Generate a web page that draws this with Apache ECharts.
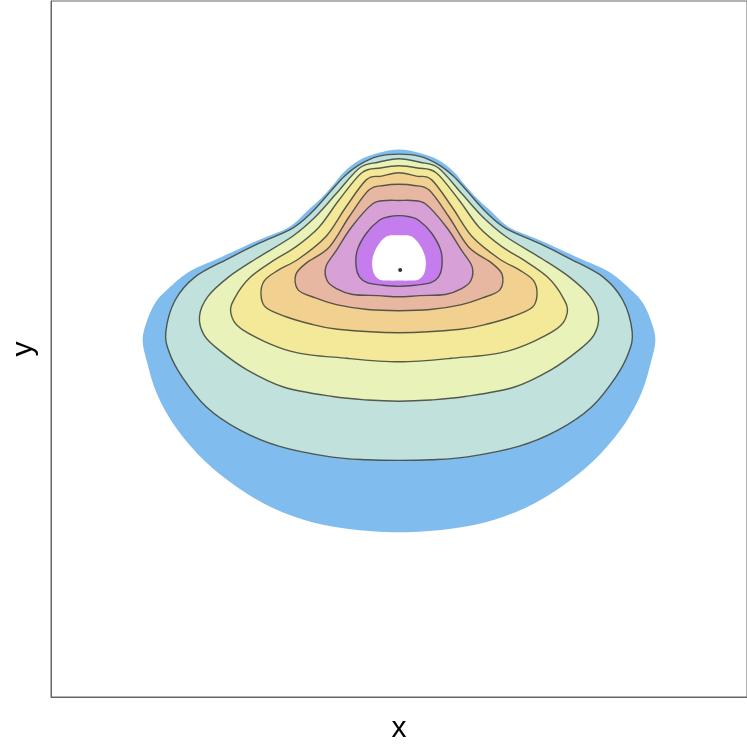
<!DOCTYPE html>
<html>
<head>
<meta charset="utf-8">
<title>contour</title>
<script src="https://cdn.jsdelivr.net/npm/echarts@6/dist/echarts.min.js"></script>
<style>
  html, body { margin: 0; padding: 0; background: #fff; }
  #chart { width: 747px; height: 745px; }
</style>
</head>
<body>
<div id="chart"></div>
<script>
// right half of each contour, from the top of the axis x=0 round to the bottom (mirrored for the left half)
const outerEdge = [[0,1.72],[0.18,1.69],[0.34,1.63],[0.47,1.53],[0.58,1.40],[0.68,1.29],[0.78,1.20],[0.95,1.05],[1.21,0.94],[1.56,0.78],[1.82,0.66],[2.01,0.50],[2.10,0.40],[2.17,0.25],[2.21,0.08],[2.17,-0.12],[2.09,-0.38],[1.95,-0.64],[1.74,-0.90],[1.48,-1.13],[1.17,-1.33],[0.83,-1.47],[0.45,-1.55],[0,-1.58]];
const level1 = [[0,1.68],[0.18,1.66],[0.34,1.59],[0.47,1.49],[0.58,1.37],[0.75,1.18],[0.92,1.04],[1.21,0.91],[1.47,0.78],[1.76,0.62],[1.93,0.42],[2.01,0.15],[1.98,-0.03],[1.87,-0.24],[1.66,-0.50],[1.37,-0.70],[1.03,-0.84],[0.59,-0.93],[0.27,-0.955],[0,-0.96]];
const level2 = [[0,1.64],[0.18,1.61],[0.34,1.56],[0.54,1.34],[0.72,1.14],[0.92,0.97],[1.23,0.78],[1.47,0.62],[1.65,0.45],[1.72,0.28],[1.68,0.12],[1.55,-0.01],[1.31,-0.18],[0.99,-0.33],[0.57,-0.41],[0.27,-0.44],[0,-0.45]];
const level3 = [[0,1.58],[0.16,1.56],[0.32,1.52],[0.52,1.28],[0.69,1.05],[0.89,0.88],[1.07,0.77],[1.28,0.62],[1.41,0.45],[1.45,0.31],[1.34,0.16],[0.93,-0.02],[0.45,-0.08],[0,-0.11]];
const level4 = [[0,1.52],[0.15,1.49],[0.28,1.46],[0.46,1.22],[0.63,0.97],[0.86,0.78],[1.04,0.68],[1.16,0.59],[1.19,0.47],[1.15,0.36],[0.98,0.28],[0.78,0.22],[0.53,0.17],[0,0.14]];
const level5 = [[0,1.42],[0.13,1.41],[0.26,1.37],[0.43,1.14],[0.60,0.88],[0.80,0.74],[0.89,0.64],[0.87,0.51],[0.72,0.44],[0.53,0.38],[0.27,0.34],[0,0.33]];
const level6 = [[0,1.28],[0.11,1.28],[0.23,1.25],[0.41,1.05],[0.54,0.85],[0.63,0.71],[0.62,0.59],[0.54,0.52],[0.40,0.47],[0.18,0.46],[0,0.45]];
const level7 = [[0,1.15],[0.09,1.14],[0.17,1.11],[0.28,1.00],[0.36,0.85],[0.37,0.71],[0.34,0.62],[0.27,0.57],[0.14,0.55],[0,0.54]];
const whiteCore = [[0,0.98],[0.11,0.97],[0.19,0.88],[0.23,0.77],[0.22,0.66],[0.17,0.60],[0.09,0.59],[0,0.59]];
const peakPoint = [[0.01, 0.68]];

const halves = [outerEdge, level1, level2, level3, level4, level5, level6, level7, whiteCore];
const fills = ['#80bdee', '#c0e1dc', '#e9f2b8', '#f4e899', '#f2d08f', '#e8b7a1', '#d7a0d7', '#c57ced', '#ffffff'];
const outlined = [false, true, true, true, true, true, true, true, false];

function mirror(half) {
  const left = half.slice(1, -1).reverse().map(p => [-p[0], p[1]]);
  return half.concat(left);
}
const contours = halves.map(mirror);

// closed catmull-rom curve through the pixel points, as bezier path
function closedPath(pts) {
  const n = pts.length;
  const f = v => v.toFixed(2);
  let d = 'M' + f(pts[0][0]) + ' ' + f(pts[0][1]);
  for (let i = 0; i < n; i++) {
    const p0 = pts[(i - 1 + n) % n], p1 = pts[i], p2 = pts[(i + 1) % n], p3 = pts[(i + 2) % n];
    const c1x = p1[0] + (p2[0] - p0[0]) / 6, c1y = p1[1] + (p2[1] - p0[1]) / 6;
    const c2x = p2[0] - (p3[0] - p1[0]) / 6, c2y = p2[1] - (p3[1] - p1[1]) / 6;
    d += 'C' + f(c1x) + ' ' + f(c1y) + ' ' + f(c2x) + ' ' + f(c2y) + ' ' + f(p2[0]) + ' ' + f(p2[1]);
  }
  return d + 'Z';
}

const chart = echarts.init(document.getElementById('chart'));
chart.setOption({
  animation: false,
  grid: { left: 51, right: 0, top: 1, bottom: 48, outerBoundsMode: 'none', show: true, borderColor: '#666', borderWidth: 1 },
  xAxis: {
    type: 'value', min: -3, max: 3,
    name: 'x', nameLocation: 'middle', nameGap: 17,
    nameTextStyle: { fontSize: 30, color: '#000', fontFamily: 'Liberation Sans' },
    axisLine: { show: true, onZero: false, lineStyle: { color: '#666', width: 1 } },
    axisTick: { show: false }, axisLabel: { show: false }, splitLine: { show: false }
  },
  yAxis: {
    type: 'value', min: -3, max: 3,
    name: 'y', nameLocation: 'middle', nameGap: 12,
    nameTextStyle: { fontSize: 30, color: '#000', fontFamily: 'Liberation Sans' },
    axisLine: { show: true, onZero: false, lineStyle: { color: '#666', width: 1 } },
    axisTick: { show: false }, axisLabel: { show: false }, splitLine: { show: false }
  },
  series: [
    {
      type: 'custom',
      data: contours.map((c, i) => [0, 0, i]),
      renderItem: function (params, api) {
        const i = params.dataIndex;
        const pts = contours[i].map(p => api.coord(p));
        return {
          type: 'path',
          shape: { pathData: closedPath(pts) },
          style: {
            fill: fills[i],
            stroke: outlined[i] ? 'rgba(60,65,55,0.85)' : null,
            lineWidth: outlined[i] ? 1.4 : 0
          }
        };
      }
    },
    {
      type: 'scatter',
      data: peakPoint,
      symbolSize: 4,
      itemStyle: { color: '#000' }
    }
  ]
});
</script>
</body>
</html>
